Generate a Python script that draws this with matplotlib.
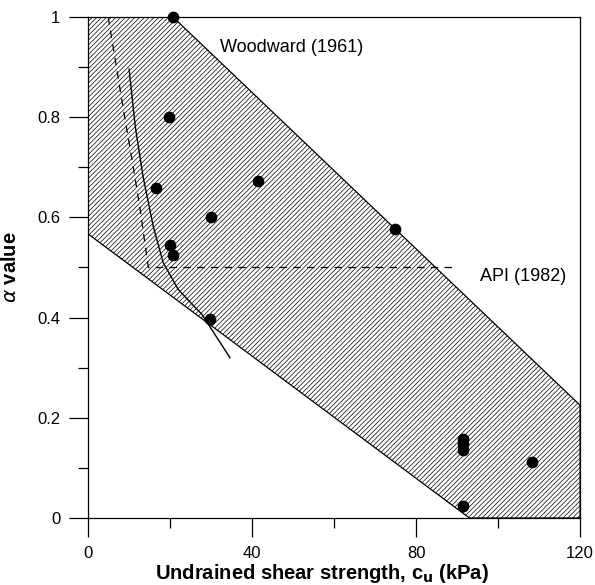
import matplotlib

matplotlib.use("Agg")
import matplotlib.pyplot as plt
from matplotlib.patches import Polygon

plt.rcParams["font.family"] = ["Liberation Sans", "DejaVu Sans"]
plt.rcParams["hatch.linewidth"] = 0.5
plt.rcParams["hatch.color"] = "#7a7a7a"

# Woodward (1961) envelope: corners of the shaded band
band_cu = [0, 20.7, 120, 120, 93, 0]
band_alpha = [1.0, 1.0, 0.225, 0.0, 0.0, 0.567]

# measured points
cu_pts = [20.7, 19.8, 16.6, 41.5, 30.0, 20.0, 20.7, 29.8, 74.9,
          91.5, 91.5, 91.5, 108.3, 91.5]
alpha_pts = [1.0, 0.80, 0.658, 0.672, 0.60, 0.545, 0.525, 0.398, 0.576,
             0.158, 0.147, 0.136, 0.112, 0.024]

# API (1982) dashed curve
api_cu = [4.9, 6.6, 8.6, 10.7, 12.7, 14.7, 90.0]
api_alpha = [1.0, 0.916, 0.816, 0.716, 0.616, 0.50, 0.50]

# solid trend curve
trend_cu = [10.0, 11.5, 13.4, 15.9, 18.3, 22.0, 27.8, 34.6]
trend_alpha = [0.896, 0.782, 0.682, 0.582, 0.51, 0.456, 0.406, 0.32]

fig = plt.figure(figsize=(5.95, 5.85), dpi=100)
ax = fig.add_axes([0.148, 0.1145, 0.827, 0.8565])

band = Polygon(list(zip(band_cu, band_alpha)), closed=True, facecolor="white",
               edgecolor="black", linewidth=0.9, hatch="/" * 7)
ax.add_patch(band)

ax.plot(api_cu, api_alpha, color="black", linestyle=(0, (6, 5)), linewidth=0.9)
ax.plot(trend_cu, trend_alpha, color="black", linewidth=1.0)
ax.scatter(cu_pts, alpha_pts, s=55, color="black", zorder=5, clip_on=False)

ax.text(32.2, 0.94, "Woodward (1961)", fontsize=13, va="center", ha="left")
ax.text(95.6, 0.482, "API (1982)", fontsize=13, va="center", ha="left")

ax.set_xlim(0, 120)
ax.set_ylim(0, 1.0)
ax.set_xticks([0, 40, 80, 120])
ax.set_xticks([20, 60, 100], minor=True)
ax.set_yticks([0, 0.2, 0.4, 0.6, 0.8, 1.0])
ax.set_yticklabels(["0", "0.2", "0.4", "0.6", "0.8", "1"])
ax.set_yticks([0.1, 0.3, 0.5, 0.7, 0.9], minor=True)
ax.tick_params(which="major", direction="out", length=14, width=0.9,
               labelsize=12, pad=6)
ax.tick_params(which="minor", direction="out", length=7, width=0.9)
for side in ax.spines.values():
    side.set_linewidth(0.9)

ax.set_xlabel("Undrained shear strength, c$_\\mathbf{u}$ (kPa)",
              fontsize=14.5, fontweight="bold")
ax.xaxis.set_label_coords(0.476, -0.088)
ax.set_ylabel("$\\alpha$ value", fontsize=14.5, fontweight="bold", labelpad=12)

fig.savefig("out.png", dpi=100)
